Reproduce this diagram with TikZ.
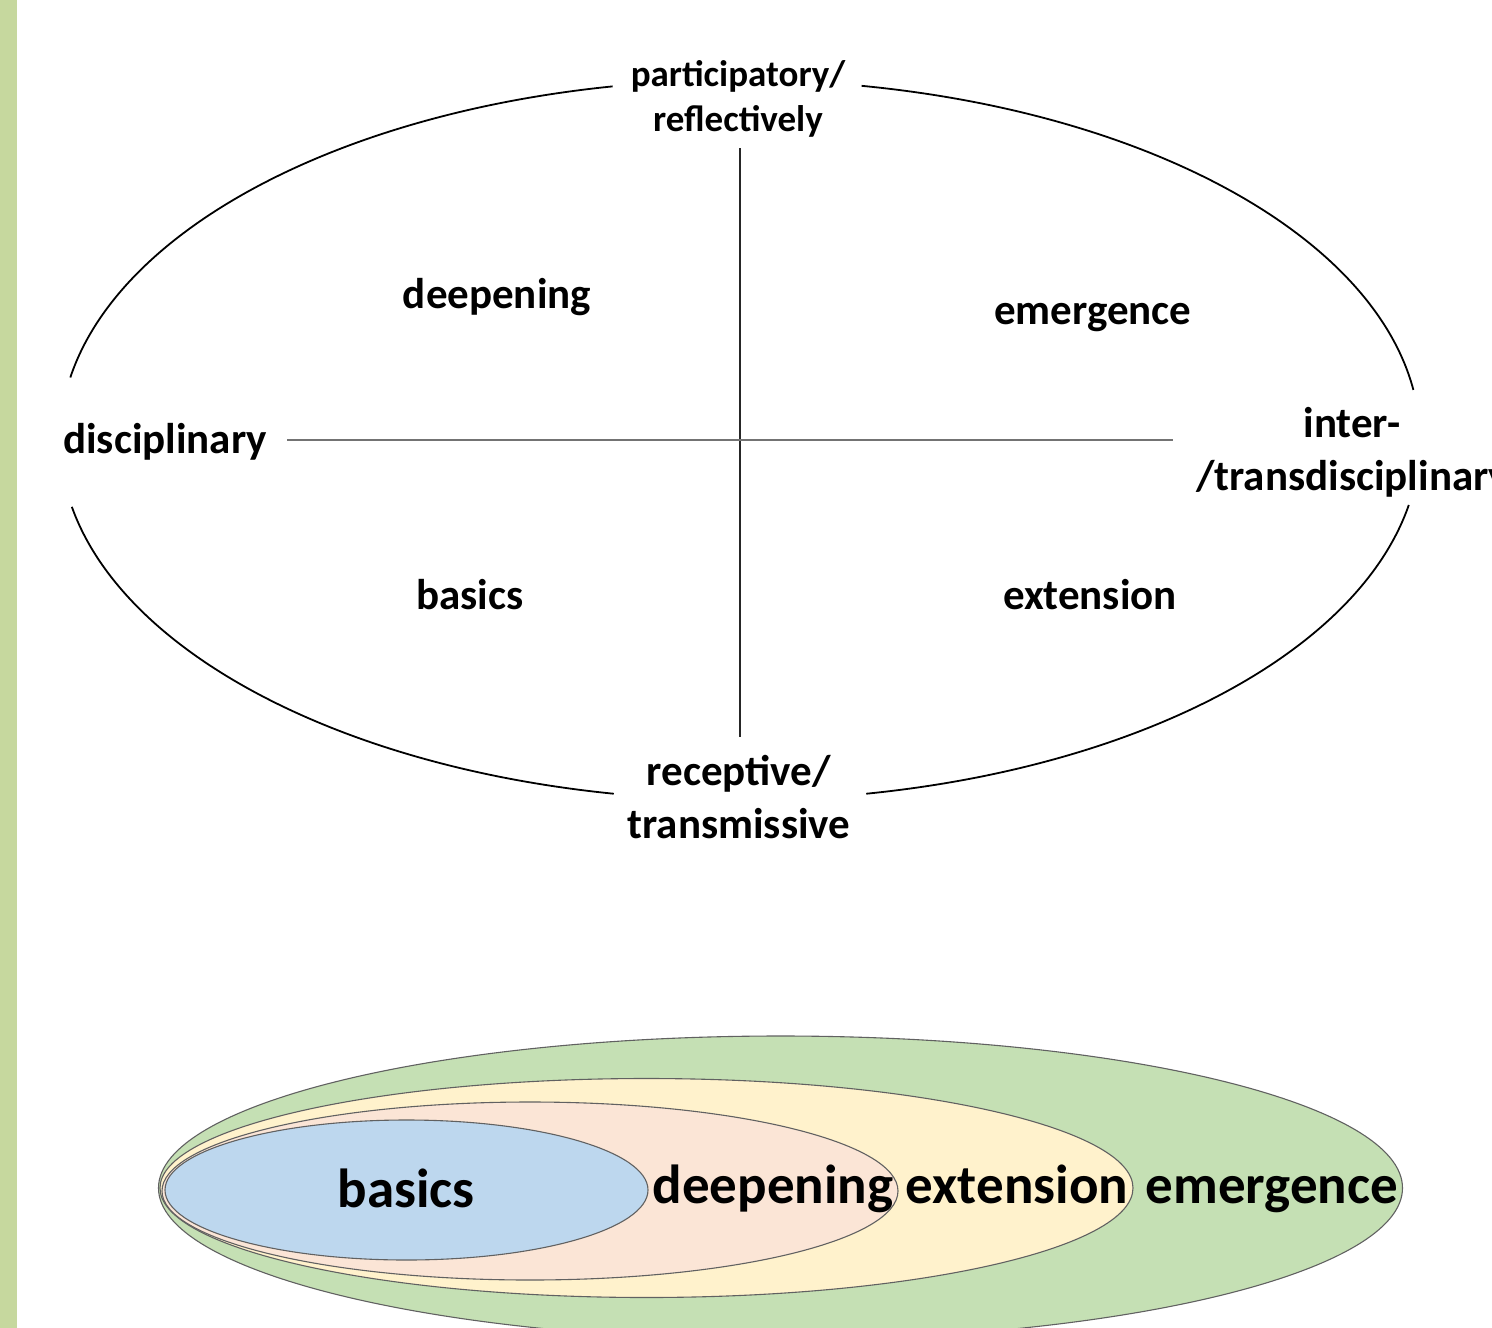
\documentclass[tikz,border=0pt]{standalone}
\usepackage{fontspec}
\setmainfont{Carlito}
\definecolor{barGreen}{HTML}{C6D89E}
\definecolor{ringGreen}{HTML}{C5E0B4}
\definecolor{ringYellow}{HTML}{FFF2CC}
\definecolor{ringPeach}{HTML}{FBE5D6}
\definecolor{ringBlue}{HTML}{BDD7EE}
\begin{document}
\begin{tikzpicture}[x=1pt,y=-1pt,
  lbl/.style={font=\fontsize{43}{53}\selectfont\bfseries, inner sep=0pt, align=center},
  lblsmall/.style={font=\fontsize{37}{45}\selectfont\bfseries, inner sep=0pt, align=center},
  ringlbl/.style={font=\fontsize{55}{60}\selectfont\bfseries, inner sep=0pt, anchor=base},
  oval/.style={line width=1.8pt, black},
  ring/.style={draw=black!62, line width=1.1pt}]
\useasboundingbox (0,0) rectangle (1492,1328);
\fill[barGreen] (0,0) rectangle (17,1328);

% quadrant labels
\node[lblsmall] (top) at (738,99) {participatory/\\reflectively};
\node[lbl] (bottom) at (739,797) {receptive/\\transmissive};
\node[lbl, anchor=west] (left) at (63,442) {disciplinary};
\node[lbl] (rightA) at (1352,423) {inter-};
\node[lbl, anchor=west] (rightB) at (1196,479) {/transdisciplinary};
\node[lbl] (qDeep) at (497,297) {deepening};
\node[lbl] (qEmer) at (1093,318) {emergence};
\node[lbl] (qBas) at (470,595) {basics};
\node[lbl] (qExt) at (1090,595) {extension};

% axes
\coordinate (vTop) at (740,148);
\coordinate (vBot) at (740,737);
\coordinate (hL) at (287,440);
\coordinate (hR) at (1173,440);
\draw[line width=2.6pt, black!85] (vTop) -- (vBot);
\draw[line width=2.6pt, black!55] (hL) -- (hR);

% outer oval with gaps
\coordinate (oc) at (740,440);
\draw[oval] (oc) ++(190:680 and 360) arc[start angle=190, end angle=259.2, x radius=680, y radius=360];
\draw[oval] (oc) ++(280.3:680 and 360) arc[start angle=280.3, end angle=352, x radius=680, y radius=360];
\draw[oval] (oc) ++(10.4:680 and 360) arc[start angle=10.4, end angle=79.3, x radius=680, y radius=360];
\draw[oval] (oc) ++(100.7:680 and 360) arc[start angle=100.7, end angle=169.3, x radius=680, y radius=360];

% nested ovals
\fill[ringGreen] (780.5,1188) ellipse [x radius=622, y radius=152];
\draw[ring] (780.5,1188) ellipse [x radius=622, y radius=152];
\fill[ringYellow] (646.5,1188) ellipse [x radius=486.5, y radius=109.5];
\draw[ring] (646.5,1188) ellipse [x radius=486.5, y radius=109.5];
\fill[ringPeach] (530,1191) ellipse [x radius=368, y radius=89];
\draw[ring] (530,1191) ellipse [x radius=368, y radius=89];
\fill[ringBlue] (406.5,1190) ellipse [x radius=241.5, y radius=70];
\draw[ring] (406.5,1190) ellipse [x radius=241.5, y radius=70];

\node[ringlbl] (rBas) at (406,1207) {basics};
\node[ringlbl] (rDeep) at (773,1203) {deepening};
\node[ringlbl] (rExt) at (1017,1203) {extension};
\node[ringlbl] (rEmer) at (1272,1203) {emergence};
\end{tikzpicture}
\end{document}
